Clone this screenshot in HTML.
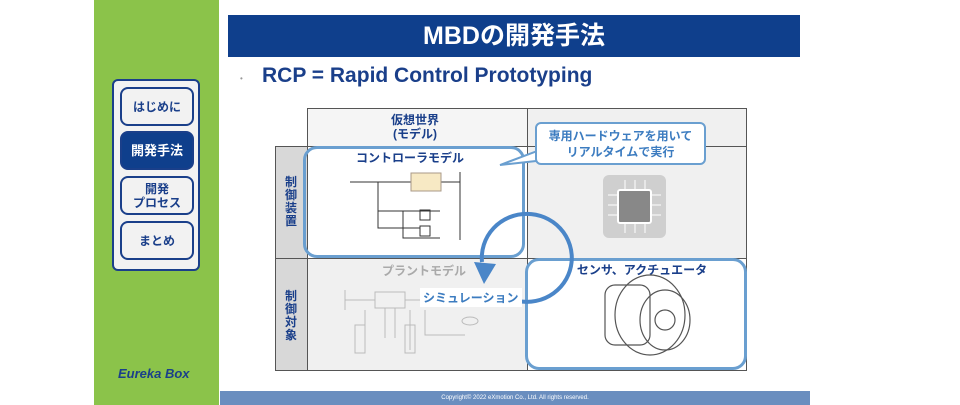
<!DOCTYPE html>
<html><head><meta charset="utf-8"><style>
body{margin:0;width:960px;height:405px;background:#fff;position:relative;overflow:hidden;font-family:"Liberation Sans","Noto Sans CJK JP",sans-serif}
.a{position:absolute}
.nav{position:absolute;left:6px;width:74px;height:39px;border:2px solid #1a3f8a;border-radius:8px;background:#f2f2f2;color:#1a3f8a;font-weight:bold;font-size:12px;display:flex;align-items:center;justify-content:center;text-align:center;line-height:14px;box-sizing:border-box}
.cell{position:absolute;background:#f0f0f0;border:1px solid #555;box-sizing:border-box}
.lab{position:absolute;color:#1a3f8a;font-weight:bold;font-size:12px;text-align:center;line-height:13px}
</style></head><body>
<div class="a" style="left:94px;top:0;width:125px;height:405px;background:#8bc34a"></div>
<div class="a" style="left:112px;top:79px;width:88px;height:192px;border:2px solid #1a3f8a;border-radius:6px;background:#f2f2f2;box-sizing:border-box">
<div class="nav" style="top:6px">はじめに</div>
<div class="nav" style="top:50px;background:#0f3f8c;color:#fff;font-size:13px">開発手法</div>
<div class="nav" style="top:95px">開発<br>プロセス</div>
<div class="nav" style="top:140px">まとめ</div>
</div>
<div class="a" style="left:118px;top:366px;color:#1a3f8a;font-weight:bold;font-size:13px;font-style:italic">Eureka Box</div>
<div class="a" style="left:228px;top:15px;width:572px;height:42px;background:#0f3f8c;color:#fff;font-weight:bold;font-size:25px;text-align:center;line-height:42px">MBDの開発手法</div>
<div class="a" style="left:240px;top:74px;color:#999;font-size:8px">•</div>
<div class="a" style="left:262px;top:64px;color:#1a3f8a;font-weight:bold;font-size:21px">RCP = Rapid Control Prototyping</div>
<div class="cell" style="left:307px;top:108px;width:221px;height:39px;background:#f5f5f5"></div>
<div class="cell" style="left:527px;top:108px;width:220px;height:39px"></div>
<div class="cell" style="left:275px;top:146px;width:33px;height:113px;background:#d8d8d8"></div>
<div class="cell" style="left:275px;top:258px;width:33px;height:113px;background:#d8d8d8"></div>
<div class="cell" style="left:307px;top:146px;width:221px;height:113px;background:#fff"></div>
<div class="cell" style="left:527px;top:146px;width:220px;height:113px"></div>
<div class="cell" style="left:307px;top:258px;width:221px;height:113px"></div>
<div class="cell" style="left:527px;top:258px;width:220px;height:113px;background:#fff"></div>
<div class="lab" style="left:360px;top:113px;width:110px;line-height:14px">仮想世界<br>(モデル)</div>
<div class="lab" style="left:282px;top:176px;width:18px">制<br>御<br>装<br>置</div>
<div class="lab" style="left:282px;top:290px;width:18px">制<br>御<br>対<br>象</div>
<div class="a" style="left:303px;top:146px;width:222px;height:112px;border:3px solid #6a9fd0;border-radius:14px;box-sizing:border-box"></div>
<div class="a" style="left:525px;top:258px;width:222px;height:112px;border:3px solid #6a9fd0;border-radius:14px;box-sizing:border-box"></div>
<div class="lab" style="left:345px;top:152px;width:130px">コントローラモデル</div>
<div class="lab" style="left:562px;top:264px;width:160px">センサ、アクチュエータ</div>
<div class="a" style="left:382px;top:262px;color:#aaa;font-weight:bold;font-size:12px">プラントモデル</div>
<svg class="a" style="left:0;top:0" width="960" height="405">
<g stroke="#333" fill="none" stroke-width="1">
<path d="M350 182H460M378 182V228H420M378 211H440M403 211V238H440M460 172V240"/>
<rect x="411" y="173" width="30" height="18" fill="#f7e9c4" stroke="#a98"/>
<rect x="420" y="210" width="10" height="10"/><rect x="420" y="226" width="10" height="10"/>
</g>
<g stroke="#bbb" fill="none">
<path d="M345 290v20M345 300H375M375 292h30v16h-30zM405 300h30M385 308v30M395 308v30M365 310v40M410 310v40"/>
<rect x="355" y="325" width="10" height="28"/><rect x="405" y="325" width="10" height="28"/>
<path d="M425 310v25h40"/><ellipse cx="470" cy="321" rx="8" ry="4"/>
</g>
<rect x="603" y="175" width="63" height="63" rx="6" fill="#cfcfcf"/>
<rect x="618" y="190" width="33" height="33" rx="2" fill="#888" stroke="#fff" stroke-width="2"/>
<g stroke="#fff" stroke-width="1"><path d="M608 195h10M608 205h10M608 215h10M651 195h10M651 205h10M651 215h10M625 180v10M635 180v10M645 180v10M625 223v10M635 223v10M645 223v10"/></g>
<g stroke="#555" fill="none" stroke-width="1.2"><ellipse cx="650" cy="315" rx="35" ry="40"/><ellipse cx="665" cy="320" rx="25" ry="30"/><circle cx="665" cy="320" r="10"/><rect x="605" y="285" width="45" height="60" rx="10"/></g>
<path d="M518 301 A45 44 0 1 0 482 262" stroke="#4a86c8" stroke-width="4" fill="none"/>
<path d="M474 262 L496 264 L484 284Z" fill="#4a86c8"/>
<path d="M500 165 L540 150 L545 160Z" fill="#fff" stroke="#6a9fd0" stroke-width="2"/>
</svg>
<div class="a" style="left:535px;top:122px;width:171px;height:43px;border:2px solid #6a9fd0;border-radius:6px;background:#fff;box-sizing:border-box;color:#3c7cc0;font-weight:bold;font-size:12px;text-align:center;line-height:16px;padding-top:4px">専用ハードウェアを用いて<br>リアルタイムで実行</div>
<div class="a" style="left:420px;top:288px;padding:1px 3px;background:#fff;color:#3c7cc0;font-weight:bold;font-size:12px">シミュレーション</div>
<div class="a" style="left:220px;top:391px;width:590px;height:14px;background:#6a8ebf;color:#fff;font-size:6px;text-align:center;line-height:14px">Copyright© 2022 eXmotion Co., Ltd. All rights reserved.</div>
</body></html>
